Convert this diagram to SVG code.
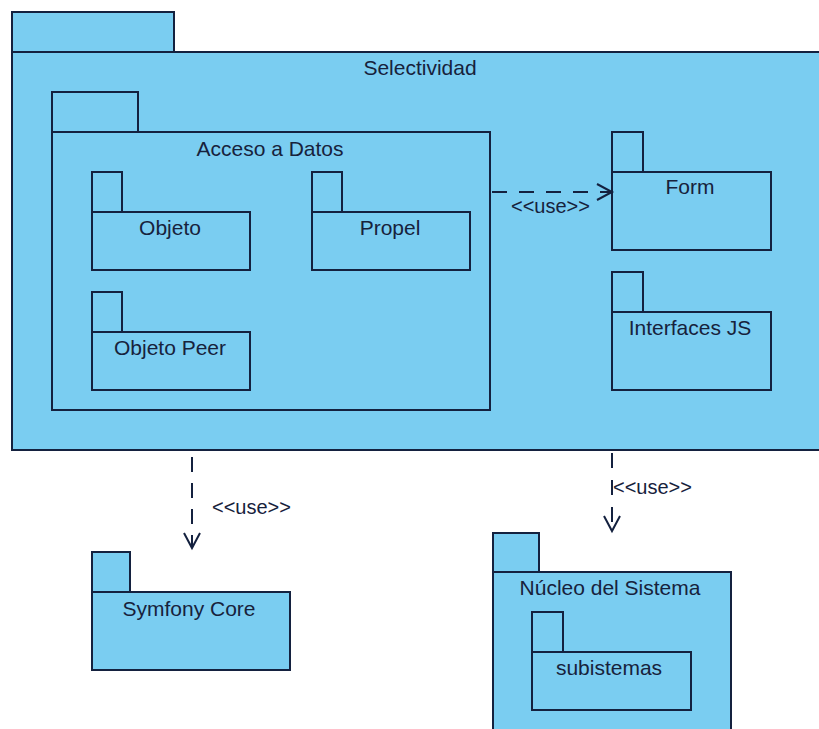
<svg xmlns="http://www.w3.org/2000/svg" width="819" height="729" viewBox="0 0 819 729">
<defs>
<style>
.pk{fill:#7acdf1;stroke:#14213f;stroke-width:2}
.t{font-family:"Liberation Sans",Arial,sans-serif;font-size:21px;fill:#17223c;text-anchor:middle}
.u{font-family:"Liberation Sans",Arial,sans-serif;font-size:20px;fill:#17223c}
.d{fill:none;stroke:#14213f;stroke-width:2;stroke-dasharray:15 12}
.ah{fill:none;stroke:#14213f;stroke-width:2}
</style>
</defs>
<rect width="819" height="729" fill="#ffffff"/>
<g id="selectividad">
<rect class="pk" x="12" y="12" width="162" height="40"/>
<rect class="pk" x="12" y="52" width="820" height="398"/>
<text class="t" x="420" y="75">Selectividad</text>
</g>
<g id="acceso-a-datos">
<rect class="pk" x="52" y="92" width="86" height="40"/>
<rect class="pk" x="52" y="132" width="438" height="278"/>
<text class="t" x="270" y="156">Acceso a Datos</text>
</g>
<g id="objeto">
<rect class="pk" x="92" y="172" width="30" height="40"/>
<rect class="pk" x="92" y="212" width="158" height="58"/>
<text class="t" x="170" y="235">Objeto</text>
</g>
<g id="propel">
<rect class="pk" x="312" y="172" width="30" height="40"/>
<rect class="pk" x="312" y="212" width="158" height="58"/>
<text class="t" x="390" y="235">Propel</text>
</g>
<g id="objeto-peer">
<rect class="pk" x="92" y="292" width="30" height="40"/>
<rect class="pk" x="92" y="332" width="158" height="58"/>
<text class="t" x="170" y="355">Objeto Peer</text>
</g>
<g id="form">
<rect class="pk" x="612" y="132" width="31" height="40"/>
<rect class="pk" x="612" y="172" width="159" height="78"/>
<text class="t" x="690" y="194">Form</text>
</g>
<g id="interfaces-js">
<rect class="pk" x="612" y="272" width="31" height="40"/>
<rect class="pk" x="612" y="312" width="159" height="78"/>
<text class="t" x="690" y="335">Interfaces JS</text>
</g>
<g id="symfony-core">
<rect class="pk" x="92" y="552" width="38" height="40"/>
<rect class="pk" x="92" y="592" width="198" height="78"/>
<text class="t" x="189" y="616">Symfony Core</text>
</g>
<g id="nucleo-del-sistema">
<rect class="pk" x="493" y="533" width="46" height="39"/>
<rect class="pk" x="493" y="572" width="238" height="170"/>
<text class="t" x="610" y="595">Núcleo del Sistema</text>
</g>
<g id="subistemas">
<rect class="pk" x="532" y="612" width="31" height="40"/>
<rect class="pk" x="532" y="652" width="159" height="58"/>
<text class="t" x="609" y="675">subistemas</text>
</g>
<g id="connectors">
<line class="d" x1="492" y1="192" x2="611" y2="192"/>
<polyline class="ah" points="597,184 612,192 597,200"/>
<text class="u" x="511" y="213">&lt;&lt;use&gt;&gt;</text>
<line class="d" x1="192" y1="457" x2="192" y2="547" style="stroke-dasharray:15 11"/>
<polyline class="ah" points="184,533 192,548 200,533"/>
<text class="u" x="212" y="514">&lt;&lt;use&gt;&gt;</text>
<line class="d" x1="612" y1="453" x2="612" y2="530"/>
<polyline class="ah" points="604,516 612,531 620,516"/>
<text class="u" x="613" y="494">&lt;&lt;use&gt;&gt;</text>
</g>
</svg>
